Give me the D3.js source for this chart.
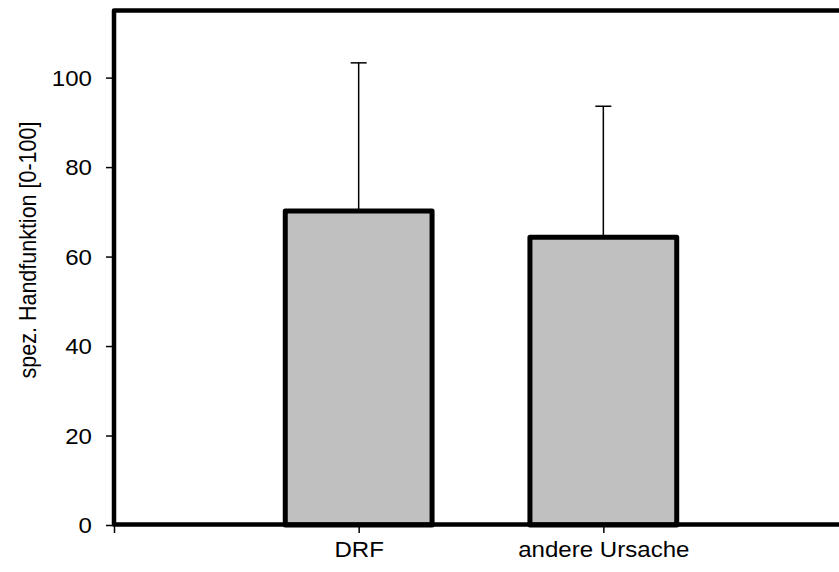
<!DOCTYPE html>
<html>
<head>
<meta charset="utf-8">
<script src="https://cdn.jsdelivr.net/npm/d3@7"></script>
<style>
  html, body { margin: 0; padding: 0; background: #fff; }
  svg { display: block; }
  text { font-family: "Liberation Sans", Arial, sans-serif; fill: #000; }
</style>
</head>
<body>
<svg id="chart" width="839" height="572"></svg>
<script>
// ---- data ----
const categories = ["DRF", "andere Ursache"];
const means = [70.2, 64.3];
const errors = [33.1, 29.3];          // upper error (SD)
const yTicks = [0, 20, 40, 60, 80, 100];
const yLabel = "spez. Handfunktion [0-100]";

// ---- layout ----
const padL = 114, padT = 10.5, padB = 525, padR = 848;
const sx = 1.12, fontSize = 21.5;

const svg = d3.select("#chart");

const x = d3.scaleLinear().domain([0, 3]).range([padL, padR]);
const y = d3.scaleLinear().domain([0, 115]).range([padB, padT]);
const barW = 0.6;

// error bars (drawn first, behind bars)
const eg = svg.append("g");
categories.forEach((c, i) => {
  const cx = x(i + 1);
  eg.append("line").attr("x1", cx).attr("x2", cx)
    .attr("y1", y(means[i])).attr("y2", y(means[i] + errors[i]))
    .attr("stroke", "#000").attr("stroke-width", 1.5);
  eg.append("line").attr("x1", cx - 8).attr("x2", cx + 8)
    .attr("y1", y(means[i] + errors[i])).attr("y2", y(means[i] + errors[i]))
    .attr("stroke", "#000").attr("stroke-width", 1.5);
});

// bars
svg.append("g").selectAll("rect").data(means).join("rect")
  .attr("x", (d, i) => x(i + 1 - barW / 2))
  .attr("width", x(barW) - x(0))
  .attr("y", d => y(d))
  .attr("height", d => y(0) - y(d))
  .attr("fill", "#c0c0c0")
  .attr("stroke", "#000")
  .attr("stroke-width", 5)
  .attr("stroke-linejoin", "round");

// y axis
const yAxis = svg.append("g").attr("transform", `translate(${padL},0)`)
  .call(d3.axisLeft(y).tickValues(yTicks).tickSize(8).tickSizeOuter(0).tickFormat(d3.format("d")));
yAxis.select(".domain").remove();
yAxis.selectAll(".tick line").attr("stroke", "#000").attr("stroke-width", 1.5);
yAxis.selectAll(".tick text")
  .attr("x", 0).attr("dy", "0.35em")
  .attr("transform", `translate(-22,0) scale(${sx},1)`)
  .style("font-size", fontSize + "px")
  .style("font-family", "'Liberation Sans', Arial, sans-serif");

// x axis
const xAxis = svg.append("g").attr("transform", `translate(0,${padB})`)
  .call(d3.axisBottom(x).tickValues([0, 1, 2]).tickSize(8).tickSizeOuter(0)
    .tickFormat(d => d === 0 ? "" : categories[d - 1]));
xAxis.select(".domain").remove();
xAxis.selectAll(".tick line").attr("stroke", "#000").attr("stroke-width", 1.5);
xAxis.selectAll(".tick text")
  .attr("y", 0).attr("dy", 0)
  .attr("transform", `translate(0,32) scale(${sx},1)`)
  .style("font-size", fontSize + "px")
  .style("font-family", "'Liberation Sans', Arial, sans-serif");

// frame
svg.append("path")
  .attr("d", `M${padR},${padT} L${padL},${padT} L${padL},${padB - 0.5} L${padR},${padB - 0.5} Z`)
  .attr("fill", "none").attr("stroke", "#000").attr("stroke-width", 4.5)
  .attr("stroke-linejoin", "round");

// y label
svg.append("text")
  .attr("transform", `translate(36,250) scale(${sx},1) rotate(-90)`)
  .attr("text-anchor", "middle")
  .style("font-size", fontSize + "px")
  .text(yLabel);
</script>
</body>
</html>
